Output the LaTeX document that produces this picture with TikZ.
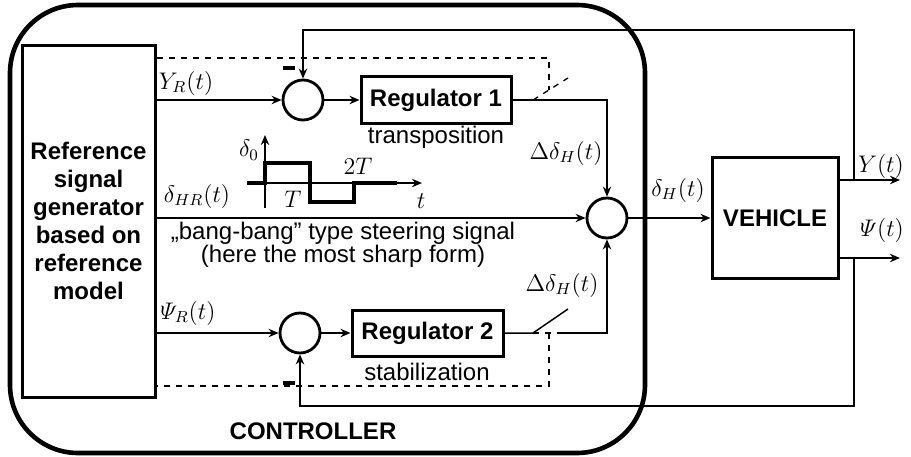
\documentclass[tikz,border=0pt]{standalone}
\usepackage{amsmath}
\usepackage{fontspec}
\setmainfont{Liberation Sans}
\usetikzlibrary{shapes, positioning, arrows.meta, calc}

\tikzset{
  blockbox/.style={draw, line width=1.5pt, inner sep=0pt, font=\bfseries\fontsize{12}{14}\selectfont},
  sumnode/.style={draw, circle, line width=1.4pt, minimum size=20pt, inner sep=0pt},
  sig/.style={line width=0.75pt},
  ctrl/.style={dashed, line width=0.65pt},
  lbl/.style={font=\fontsize{11.5}{13}\selectfont, inner sep=0pt},
  txt/.style={font=\fontsize{12}{14}\selectfont, inner sep=0pt}
}

\begin{document}
\begin{tikzpicture}[x=0.5pt, y=-0.5pt, >={Stealth[length=5pt, width=4.2pt, inset=1.6pt]}]
  \useasboundingbox (0,0) rectangle (911,456);

  % Controller frame
  \draw[line width=2.3pt, rounded corners=34pt] (10,5) rectangle (645,453);
  \node[txt, font=\bfseries\fontsize{12}{14}\selectfont] (ctrltxt) at (313,431) {CONTROLLER};

  % Blocks
  \node[blockbox, minimum width=66.5pt, minimum height=176pt, align=center] (gen) at (88.5,221)
    {Reference\\signal\\generator\\based on\\reference\\model};
  \node[sumnode] (s1) at (303,100) {};
  \node[blockbox, minimum width=75pt, minimum height=23.5pt] (reg1) at (436,100) {Regulator 1};
  \node[sumnode] (s3) at (300,333) {};
  \node[blockbox, minimum width=75.5pt, minimum height=23pt] (reg2) at (427.5,333) {Regulator 2};
  \node[sumnode] (s2) at (607,218) {};
  \node[blockbox, minimum width=63pt, minimum height=60.5pt] (veh) at (775,218) {VEHICLE};

  % Texts under the regulators
  \node[txt] (trtxt) at (436,137) {transposition};
  \node[txt] (sttxt) at (427,372) {stabilization};
  \node[txt, font=\fontsize{12}{11.3}\selectfont, align=center] (bbtxt) at (343,245)
    {„bang-bang” type steering signal\\(here the most sharp form)};

  % Helper points
  \coordinate (sw1) at (533,100);
  \coordinate (sw2) at (533,333);
  \coordinate (sw2e) at (563,333);
  \coordinate (dtop) at (549,58);
  \coordinate (dtopend) at (549,90);
  \coordinate (dbot) at (549,386);
  \coordinate (yout) at (900,180);
  \coordinate (psiout) at (900,258);
  \coordinate (ytap) at (854,180);
  \coordinate (psitap) at (854,258);
  \coordinate (fbtop) at (303,30);
  \coordinate (fbbot) at (300,406);

  % Upper loop (transposition)
  \draw[sig,->] (gen.east |- s1) -- (s1);
  \draw[sig,->] (s1) -- (reg1);
  \draw[sig,->] (reg1.east) -| (s2.north);
  \draw[ctrl] (sw1) -- ++(35,-22);
  \draw[ctrl] (gen.east |- dtop) -- (dtop) -- (dtopend);

  % Lower loop (stabilization)
  \draw[sig,->] (gen.east |- s3) -- (s3);
  \draw[sig,->] (s3) -- (reg2);
  \draw[sig] (reg2.east) -- (sw2) -- ++(35,-24);
  \draw[ctrl] (sw2) -- (sw2e);
  \draw[sig,->] (sw2e) -| (s2.south);
  \draw[ctrl] (sw1 |- sw2) ++(16,0) |- (gen.east |- dbot);

  % Reference steering signal
  \draw[sig,->] (gen.east |- s2) -- (s2);
  \draw[sig,->] (s2) -- (veh.west |- s2);

  % Vehicle outputs and feedback
  \draw[sig,->] (veh.east |- yout) -- (yout);
  \draw[sig,->] (veh.east |- psiout) -- (psiout);
  \draw[sig,->] (ytap) |- (fbtop) -- (s1.north);
  \draw[sig,->] (psitap) |- (fbbot) -- (s3.south);
  \node[inner sep=0pt] (minus1) at (289,68) {\rule{6pt}{2pt}};
  \node[inner sep=0pt] (minus2) at (288.5,383) {\rule{6pt}{2pt}};

  % Small plot of the bang-bang signal
  \draw[sig,->] (247,183) -- (422,183);
  \draw[sig,->] (265,208) -- (265,135);
  \draw[line width=1.6pt] (247,183) -- (265,183) -- (265,163) -- (310,163) -- (310,202)
    -- (354,202) -- (354,183) -- (397,183);
  \node[lbl] (d0) at (249,150) {$\delta_0$};
  \node[lbl] (lT) at (293,199) {$T$};
  \node[lbl] (l2T) at (358,166) {$2T$};
  \node[lbl] (lt) at (421,201) {$t$};

  % Signal labels
  \node[lbl] (lYR) at (186,83) {$Y_R(t)$};
  \node[lbl] (lHR) at (197,196) {$\delta_{HR}(t)$};
  \node[lbl] (lPR) at (188,313) {$\varPsi_R(t)$};
  \node[lbl] (ldd1) at (566,153) {$\Delta\delta_H(t)$};
  \node[lbl] (ldd2) at (562,285) {$\Delta\delta_H(t)$};
  \node[lbl] (ldH) at (678,190) {$\delta_H(t)$};
  \node[lbl] (lY) at (881,166) {$Y(t)$};
  \node[lbl] (lPsi) at (882,230) {$\varPsi(t)$};
\end{tikzpicture}
\end{document}
